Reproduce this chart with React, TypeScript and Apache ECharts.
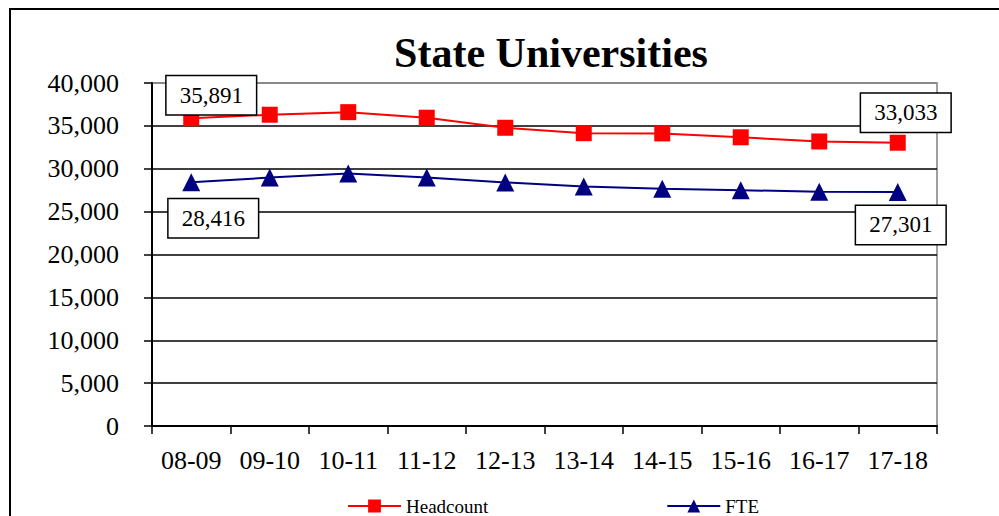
import React, { useEffect, useRef } from "react";
import * as echarts from "echarts";

const categories = ["08-09", "09-10", "10-11", "11-12", "12-13", "13-14", "14-15", "15-16", "16-17", "17-18"];
const headcount = [35891, 36300, 36600, 35950, 34780, 34150, 34120, 33670, 33180, 33033];
const fte = [28416, 28970, 29440, 28970, 28400, 27940, 27680, 27500, 27320, 27301];
const yTicks = { min: 0, max: 40000, interval: 5000 };

const FONT = "'Liberation Serif', 'Times New Roman', serif";

const labelBase = {
  show: true,
  position: "inside",
  color: "#000",
  fontFamily: FONT,
  fontSize: 23,
  lineHeight: 24,
  backgroundColor: "#fff",
  borderColor: "#000",
  borderWidth: 1.5,
  padding: [7, 13, 7, 13],
  formatter: (p: any) => Number(p.value).toLocaleString("en-US"),
};

function withEndLabels(values: number[], firstOffset: number[], lastOffset: number[]) {
  return values.map((v, i) => {
    if (i === 0) return { value: v, label: { ...labelBase, offset: firstOffset } };
    if (i === values.length - 1) return { value: v, label: { ...labelBase, offset: lastOffset } };
    return { value: v };
  });
}

export default function App() {
  const ref = useRef<HTMLDivElement>(null);
  useEffect(() => {
    if (!ref.current) return;
    const chart = echarts.init(ref.current, null, { renderer: "svg" });
    const splitColors = ["#000", "#000", "#000", "#000", "#000", "#000", "#000", "#000", "#808080"];
    chart.setOption({
      animation: false,
      backgroundColor: "#fff",
      title: {
        text: "State Universities",
        left: 546,
        textAlign: "center",
        top: 27,
        textStyle: { fontFamily: FONT, fontWeight: "bold", fontSize: 42, color: "#000" },
      },
      graphic: [
        {
          type: "rect",
          shape: { x: 10, y: 9, width: 1200, height: 700 },
          style: { fill: "none", stroke: "#000", lineWidth: 2 },
          silent: true,
          z: -1,
        },
      ],
      grid: {
        left: 152,
        right: 62,
        top: 83,
        bottom: 90,
        show: true,
        borderColor: "#808080",
        borderWidth: 1.5,
        backgroundColor: "transparent",
      },
      legend: {
        data: ["Headcount", "FTE"],
        left: 342,
        top: 491,
        itemWidth: 53,
        itemHeight: 16,
        itemGap: 178,
        textStyle: { fontFamily: FONT, fontSize: 19, color: "#000", lineHeight: 20 },
      },
      xAxis: {
        type: "category",
        data: categories,
        boundaryGap: true,
        axisLine: { lineStyle: { color: "#000", width: 2 } },
        axisTick: { show: true, length: 8, alignWithLabel: false, lineStyle: { color: "#000", width: 1.5 } },
        axisLabel: { color: "#000", fontFamily: FONT, fontSize: 26, margin: 21, interval: 0 },
        splitLine: { show: false },
      },
      yAxis: {
        type: "value",
        min: yTicks.min,
        max: yTicks.max,
        interval: yTicks.interval,
        axisLine: { show: true, lineStyle: { color: "#000", width: 2 } },
        axisTick: { show: true, length: 8, lineStyle: { color: "#000", width: 1.5 } },
        axisLabel: {
          color: "#000",
          fontFamily: FONT,
          fontSize: 26,
          margin: 33,
          formatter: (v: number) => v.toLocaleString("en-US"),
        },
        splitLine: { show: true, lineStyle: { color: splitColors, width: 1.5 } },
      },
      series: [
        {
          name: "Headcount",
          type: "line",
          data: withEndLabels(headcount, [20, -23], [8, -30]),
          symbol: "rect",
          symbolSize: 16,
          itemStyle: { color: "#FF0000" },
          lineStyle: { color: "#FF0000", width: 2 },
          label: { show: false },
          z: 3,
        },
        {
          name: "FTE",
          type: "line",
          data: withEndLabels(fte, [22, 36], [3, 33]),
          symbol: "triangle",
          symbolSize: 18,
          itemStyle: { color: "#000080" },
          lineStyle: { color: "#000080", width: 2 },
          label: { show: false },
          z: 3,
        },
      ],
    });
    return () => chart.dispose();
  }, []);
  return (
    <div
      ref={ref}
      style={{ position: "fixed", left: 0, top: 0, width: 999, height: 516, background: "#fff" }}
    />
  );
}
